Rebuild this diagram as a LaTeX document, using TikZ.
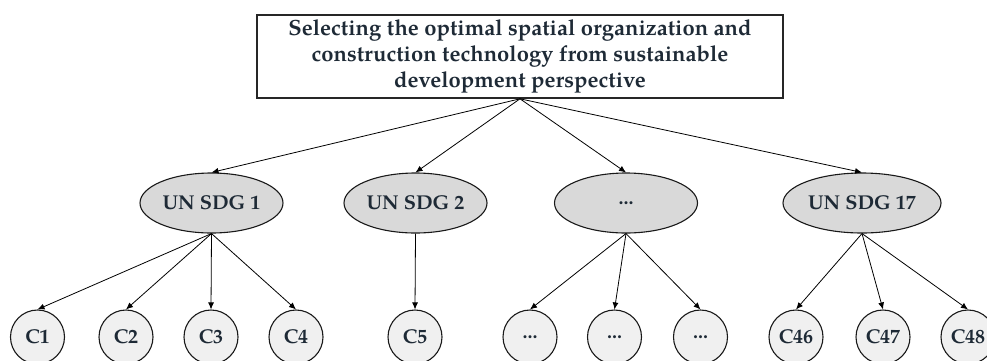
\documentclass[tikz,border=0pt]{standalone}
\usepackage{fontspec}
\setmainfont{TeX Gyre Pagella}
\usetikzlibrary{shapes.geometric,arrows.meta}
\definecolor{txt}{HTML}{1E2A36}
\definecolor{sdgfill}{HTML}{D9D9D9}
\definecolor{cfill}{HTML}{F0F0F0}
\tikzset{
  titlebox/.style={draw=black!85, line width=1.6pt, minimum width=526pt, minimum height=83pt, inner sep=0pt,
    align=center, text=txt, font=\fontsize{22}{26}\selectfont\bfseries},
  sdg/.style={ellipse, draw=black!90, line width=1.1pt, fill=sdgfill, minimum width=143pt, minimum height=60pt,
    inner sep=0pt, text=txt, font=\fontsize{20}{24}\selectfont\bfseries},
  crit/.style={circle, draw=black!90, line width=1.1pt, fill=cfill, minimum size=54pt,
    inner sep=0pt, text=txt, font=\fontsize{20}{24}\selectfont\bfseries},
  conn/.style={draw=black, line width=0.8pt, -{Latex[length=7pt,width=6pt]}}
}
\begin{document}
\begin{tikzpicture}[x=1pt,y=-1pt]
\clip (0,0) rectangle (987,360);
\useasboundingbox (0,0) rectangle (987,360);
\node[titlebox] (top) at (520,56.5) {Selecting the optimal spatial organization and\\construction technology from sustainable\\development perspective};
\node[sdg] (s1) at (211.5,203) {UN SDG 1};
\node[sdg] (s2) at (415.5,203) {UN SDG 2};
\node[sdg] (s3) at (626,203) {...};
\node[sdg, minimum width=158pt] (s17) at (862,203) {UN SDG 17};
\node[crit] (c1) at (37.5,337) {C1};
\node[crit] (c2) at (126,337) {C2};
\node[crit] (c3) at (211,337) {C3};
\node[crit] (c4) at (296,337) {C4};
\node[crit] (c5) at (415,337) {C5};
\node[crit] (d1) at (530,337) {...};
\node[crit] (d2) at (614.5,337) {...};
\node[crit] (d3) at (700.5,337) {...};
\node[crit] (c46) at (796,337) {C46};
\node[crit] (c47) at (883,337) {C47};
\node[crit] (c48) at (968,337) {C48};
\coordinate (tp) at (top.south);
\draw[conn] (tp) -- (s1.north);
\draw[conn] (tp) -- (s2.north);
\draw[conn] (tp) -- (s3.north);
\draw[conn] (tp) -- (s17.north);
\foreach \c in {c1,c2,c3,c4} \draw[conn] (s1.south) -- (\c.north);
\draw[conn] (s2.south) -- (c5.north);
\foreach \c in {d1,d2,d3} \draw[conn] (s3.south) -- (\c.north);
\foreach \c in {c46,c47,c48} \draw[conn] (s17.south) -- (\c.north);
\end{tikzpicture}
\end{document}
